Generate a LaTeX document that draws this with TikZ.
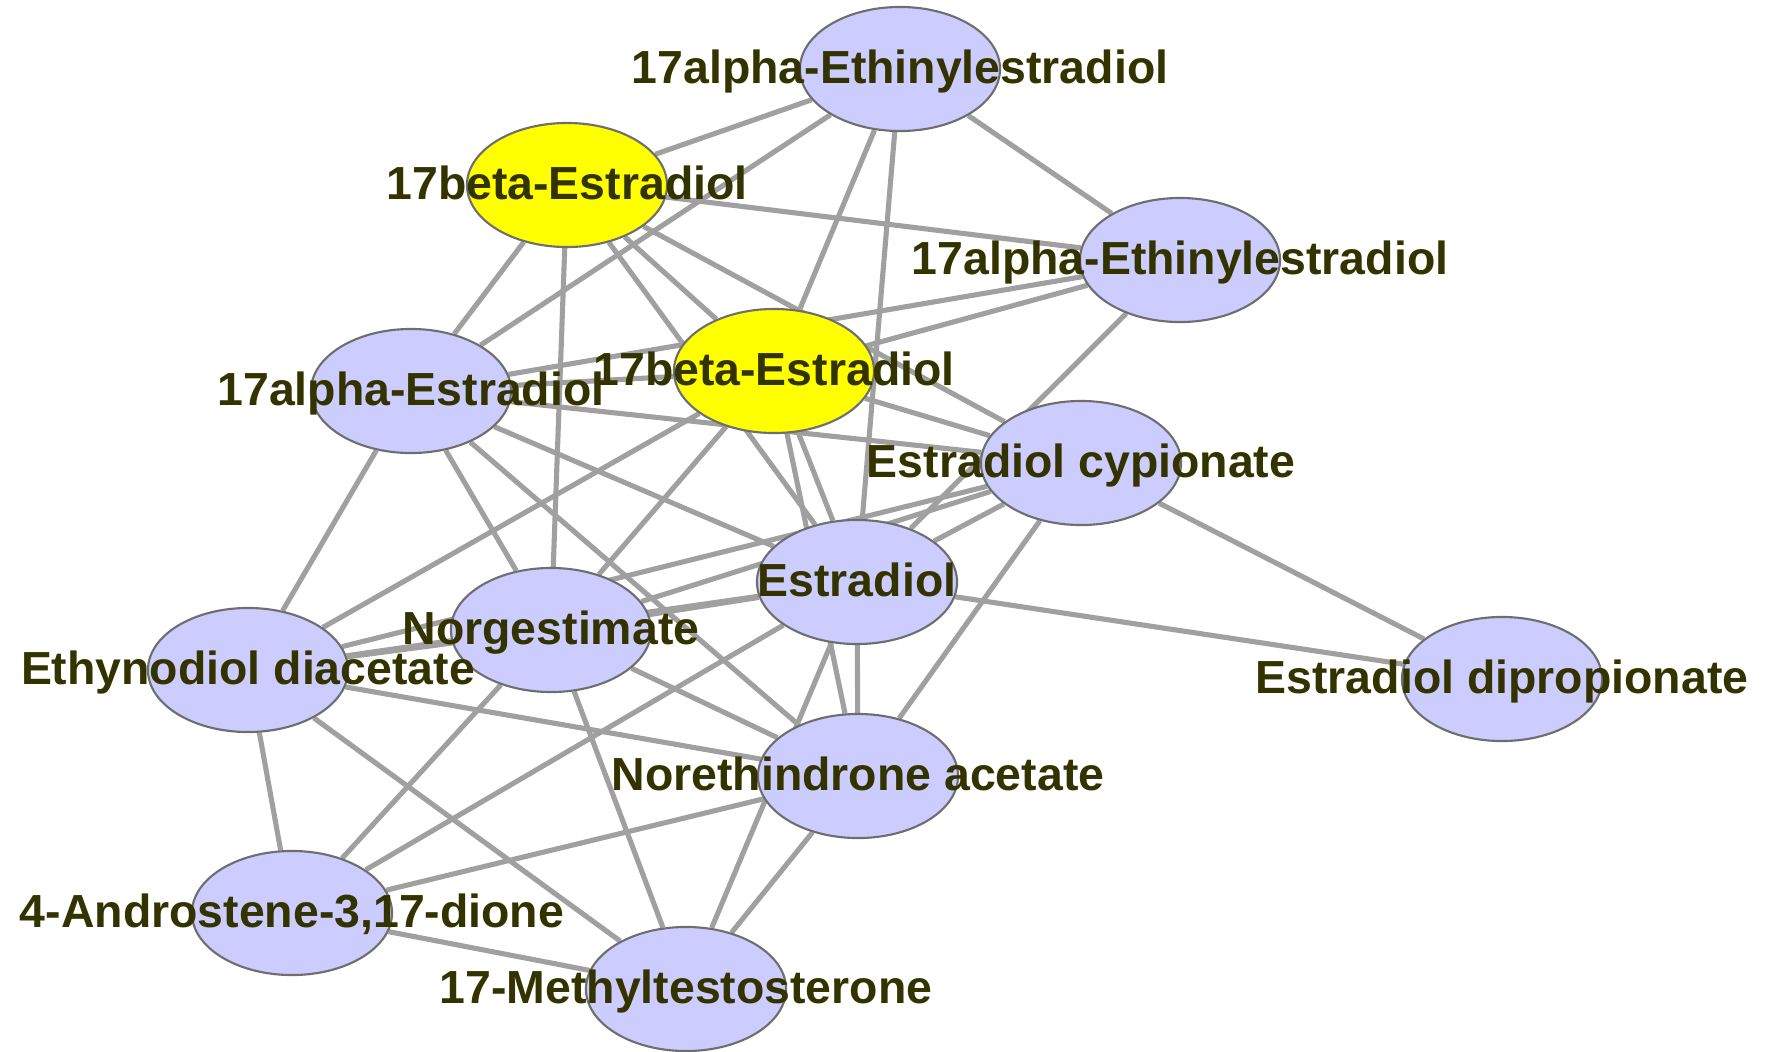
\documentclass[tikz,border=0pt]{standalone}
\usepackage{fontspec}
\setsansfont{Liberation Sans}
\usepackage{xcolor}
\usepackage{tikz}
\usetikzlibrary{shapes.geometric, backgrounds}
\definecolor{lavanda}{HTML}{CCCCFF}
\definecolor{amarillo}{HTML}{FFFF00}
\definecolor{borde}{HTML}{6E6E6E}
\definecolor{grisl}{HTML}{A0A0A0}
\definecolor{oliva}{HTML}{333300}
\tikzset{
  every picture/.style={font=\sffamily\bfseries},
  comp/.style={ellipse, draw=borde, fill=lavanda, line width=0.6pt,
              minimum width=2cm, minimum height=1.24cm, inner sep=0pt},
  compam/.style={comp, fill=amarillo},
  rot/.style={text=oliva, font={\fontsize{13.2}{15}\selectfont\sffamily\bfseries},
              inner sep=0pt, text height=0.36cm, text depth=0.07cm},
  enlace/.style={draw=grisl, line width=1.45pt},
}

\begin{document}
\begin{tikzpicture}[x=0.01cm, y=-0.01cm]
  \useasboundingbox (0,0) rectangle (1766,1051);
  \node[comp] (EEa) at (900,69) {};
  \node[compam] (bEa) at (567,185) {};
  \node[comp] (EEb) at (1180,260) {};
  \node[comp] (aE) at (411,391) {};
  \node[compam] (bEb) at (774,371) {};
  \node[comp] (Cyp) at (1081,463) {};
  \node[comp] (Est) at (857,582) {};
  \node[comp] (Ngm) at (551,630) {};
  \node[comp] (Eth) at (248,670) {};
  \node[comp] (Dip) at (1502,679) {};
  \node[comp] (Nor) at (858,776) {};
  \node[comp] (And) at (292,913) {};
  \node[comp] (Met) at (686,989) {};
  \node[rot] (tEEa) at (EEa) {17alpha-Ethinylestradiol};
  \node[rot] (tbEa) at (bEa) {17beta-Estradiol};
  \node[rot] (tEEb) at (EEb) {17alpha-Ethinylestradiol};
  \node[rot] (taE) at (aE) {17alpha-Estradiol};
  \node[rot] (tbEb) at (bEb) {17beta-Estradiol};
  \node[rot] (tCyp) at (Cyp) {Estradiol cypionate};
  \node[rot] (tEst) at (Est) {Estradiol};
  \node[rot] (tNgm) at (Ngm) {Norgestimate};
  \node[rot] (tEth) at (Eth) {Ethynodiol diacetate};
  \node[rot] (tDip) at (Dip) {Estradiol dipropionate};
  \node[rot] (tNor) at (Nor) {Norethindrone acetate};
  \node[rot] (tAnd) at (And) {4-Androstene-3,17-dione};
  \node[rot] (tMet) at (Met) {17-Methyltestosterone};
  \begin{scope}[on background layer]
    \fill[white] (0,0) rectangle (1766,1051);
    \foreach \p/\q in {EEa/bEa, EEa/EEb, EEa/aE, EEa/bEb, EEa/Est,
        bEa/EEb, bEa/aE, bEa/bEb, bEa/Cyp, bEa/Est, bEa/Ngm,
        EEb/aE, EEb/bEb, EEb/Est,
        aE/bEb, aE/Cyp, aE/Est, aE/Ngm, aE/Eth, aE/Nor,
        bEb/Cyp, bEb/Est, bEb/Ngm, bEb/Eth, bEb/Nor,
        Cyp/Est, Cyp/Ngm, Cyp/Eth, Cyp/Dip, Cyp/Nor,
        Est/Ngm, Est/Eth, Est/Dip, Est/Nor, Est/And, Est/Met,
        Ngm/Eth, Ngm/Nor, Ngm/And, Ngm/Met,
        Eth/Nor, Eth/And, Eth/Met,
        Nor/And, Nor/Met, And/Met}
      \draw[enlace] (\p) -- (\q);
  \end{scope}
\end{tikzpicture}
\end{document}
